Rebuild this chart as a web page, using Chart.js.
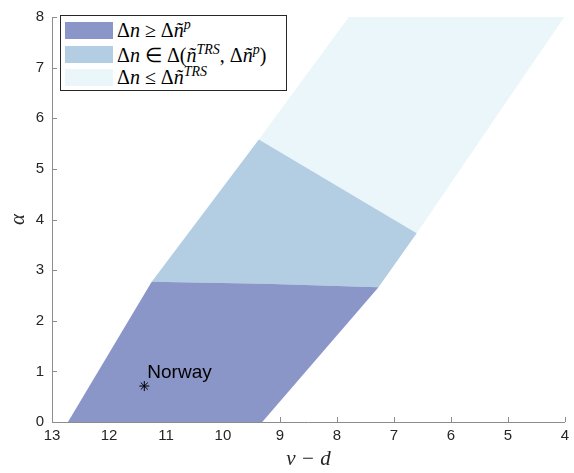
<!DOCTYPE html>
<html>
<head>
<meta charset="utf-8">
<script src="https://cdn.jsdelivr.net/npm/chart.js@4/dist/chart.umd.min.js"></script>
<style>
  html, body { margin: 0; padding: 0; background: #fff; }
  #wrap { position: relative; width: 574px; height: 473px; }
  #legend {
    position: absolute; left: 60px; top: 15px; width: 227px; height: 76px;
    border: 1px solid #262626; background: #fff; box-sizing: border-box;
    font-family: "Liberation Serif", serif; font-size: 20px; color: #000;
  }
  .row { position: absolute; left: 4px; height: 17px; display: flex; align-items: center; white-space: nowrap; }
  .sw { width: 48px; height: 17px; margin-right: 4px; flex: none; }
  .row i { font-style: italic; }
  .row sup { font-size: 14px; font-style: italic; vertical-align: 8px; line-height: 0; }
</style>
</head>
<body>
<div id="wrap">
  <canvas id="grafico" width="574" height="473"></canvas>
  <div id="legend">
    <div class="row" style="top:6px"><div class="sw" style="background:#8b96c8"></div><span>Δ<i>n</i> ≥ Δ<i>ñ</i><sup>p</sup></span></div>
    <div class="row" style="top:30px"><div class="sw" style="background:#b3cde3"></div><span>Δ<i>n</i> ∈ Δ(<i>ñ</i><sup>TRS</sup>, Δ<i>ñ</i><sup>p</sup>)</span></div>
    <div class="row" style="top:53px"><div class="sw" style="background:#eaf6f9"></div><span>Δ<i>n</i> ≤ Δ<i>ñ</i><sup>TRS</sup></span></div>
  </div>
</div>
<script>
// regiones (v-d, alpha) en orden alrededor de cada polígono
const zonaAltaX = [12.72, 9.31, 7.27, 9.26, 11.25];
const zonaAltaY = [0, 0, 2.66, 2.73, 2.77];
const zonaMediaX = [11.25, 9.26, 7.27, 6.60, 9.37];
const zonaMediaY = [2.77, 2.73, 2.66, 3.73, 5.58];
const zonaBajaX = [9.37, 6.60, 4.01, 7.79];
const zonaBajaY = [5.58, 3.73, 8, 8];

const paisX = [11.38];
const paisY = [0.71];
const paisNombre = ["Norway"];

const ticksX = [13, 12, 11, 10, 9, 8, 7, 6, 5, 4];
const ticksY = [0, 1, 2, 3, 4, 5, 6, 7, 8];

const GRIS = '#8c8c8c';
const TEXTO = '#262626';

// pasa dos listas a puntos y cierra el polígono
function poligono(xs, ys) {
    const pts = xs.map((x, i) => ({ x: x, y: ys[i] }));
    pts.push({ x: xs[0], y: ys[0] });
    return pts;
}

function zona(xs, ys, color) {
    return {
        type: 'scatter',
        data: poligono(xs, ys),
        showLine: true,
        fill: 'shape',
        backgroundColor: color,
        borderColor: 'transparent',
        borderWidth: 0,
        pointRadius: 0,
        tension: 0,
        order: 1
    };
}

// marcas de eje hacia dentro, debajo de las zonas
const marcasInternas = {
    id: 'marcasInternas',
    beforeDatasetsDraw(chart) {
        const { ctx, chartArea, scales } = chart;
        ctx.save();
        ctx.strokeStyle = GRIS;
        ctx.lineWidth = 1;
        ctx.beginPath();
        ticksX.forEach(v => {
            const px = Math.round(scales.x.getPixelForValue(v)) + 0.5;
            ctx.moveTo(px, chartArea.bottom);
            ctx.lineTo(px, chartArea.bottom - 5);
        });
        ticksY.forEach(v => {
            const py = Math.round(scales.y.getPixelForValue(v)) + 0.5;
            ctx.moveTo(chartArea.left, py);
            ctx.lineTo(chartArea.left + 5, py);
        });
        ctx.stroke();
        ctx.restore();
    }
};

// nombre del país junto a su punto
const etiquetas = {
    id: 'etiquetas',
    afterDatasetsDraw(chart) {
        const { ctx, scales } = chart;
        ctx.save();
        ctx.fillStyle = '#000';
        ctx.font = '19px "Liberation Sans", Arial, sans-serif';
        ctx.textAlign = 'left';
        ctx.textBaseline = 'alphabetic';
        paisX.forEach((x, i) => {
            const px = scales.x.getPixelForValue(x);
            const py = scales.y.getPixelForValue(paisY[i]);
            ctx.fillText(paisNombre[i], px + 3, py - 8);
        });
        ctx.restore();
    }
};

const fuenteTicks = { family: '"Liberation Sans", Arial, sans-serif', size: 15 };
const fuenteTitulo = { family: '"Liberation Serif", serif', size: 21, style: 'italic' };

new Chart(document.getElementById('grafico'), {
    type: 'scatter',
    data: {
        datasets: [
            zona(zonaAltaX, zonaAltaY, '#8b96c8'),
            zona(zonaMediaX, zonaMediaY, '#b3cde3'),
            zona(zonaBajaX, zonaBajaY, '#eaf6f9'),
            {
                type: 'scatter',
                data: paisX.map((x, i) => ({ x: x, y: paisY[i] })),
                pointStyle: 'star',
                pointRadius: 5,
                borderColor: '#000',
                backgroundColor: '#000',
                borderWidth: 1,
                order: 0
            }
        ]
    },
    options: {
        responsive: false,
        animation: false,
        layout: { padding: { top: 10, right: 2, left: 0, bottom: 0 } },
        plugins: { legend: { display: false }, tooltip: { enabled: false } },
        scales: {
            x: {
                type: 'linear',
                reverse: true,
                min: 4,
                max: 13,
                afterFit: s => { s.height = 51; },
                afterBuildTicks: s => { s.ticks = ticksX.map(v => ({ value: v })); },
                grid: { drawOnChartArea: false, drawTicks: false },
                border: { display: true, color: GRIS, width: 1 },
                ticks: { color: TEXTO, font: fuenteTicks, padding: 5, maxRotation: 0 },
                title: { display: true, text: 'v − d', color: TEXTO, font: fuenteTitulo, padding: { top: 0, bottom: 1 } }
            },
            y: {
                type: 'linear',
                min: 0,
                max: 8,
                afterFit: s => { s.width = 52; },
                afterBuildTicks: s => { s.ticks = ticksY.map(v => ({ value: v })); },
                grid: { drawOnChartArea: false, drawTicks: false },
                border: { display: true, color: GRIS, width: 1 },
                ticks: { color: TEXTO, font: fuenteTicks, padding: 8 },
                title: { display: true, text: 'α', color: TEXTO, font: fuenteTitulo, padding: { top: 6, bottom: 0 } }
            }
        }
    },
    plugins: [marcasInternas, etiquetas]
});
</script>
</body>
</html>
